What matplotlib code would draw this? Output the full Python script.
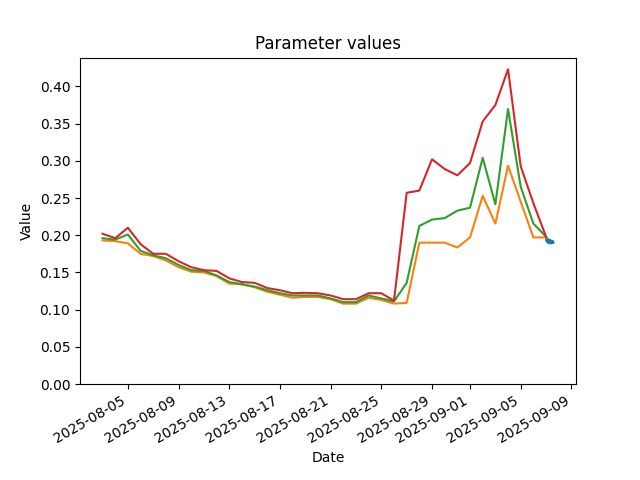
import numpy as np
import pandas as pd
import matplotlib
matplotlib.use("Agg")
import matplotlib.pyplot as plt

# daily values, 2025-08-03 .. 2025-09-07
dates = pd.date_range("2025-08-03", "2025-09-07", freq="D")

low = [0.193, 0.192, 0.189, 0.175, 0.172, 0.166, 0.157, 0.151, 0.150, 0.145,
       0.135, 0.134, 0.130, 0.124, 0.120, 0.116, 0.117, 0.117, 0.114, 0.108,
       0.108, 0.116, 0.113, 0.108, 0.109, 0.190, 0.190, 0.190, 0.1835, 0.197,
       0.253, 0.2156, 0.2934, 0.245, 0.197, 0.197]
mid = [0.196, 0.194, 0.201, 0.179, 0.173, 0.169, 0.160, 0.153, 0.152, 0.146,
       0.137, 0.134, 0.131, 0.126, 0.122, 0.119, 0.119, 0.119, 0.115, 0.110,
       0.110, 0.119, 0.115, 0.111, 0.136, 0.2125, 0.221, 0.223, 0.233, 0.237,
       0.304, 0.2416, 0.3696, 0.265, 0.2156, 0.198]
high = [0.202, 0.196, 0.210, 0.188, 0.175, 0.175, 0.165, 0.157, 0.153, 0.152,
        0.142, 0.137, 0.136, 0.129, 0.126, 0.122, 0.1225, 0.122, 0.119, 0.114,
        0.114, 0.122, 0.122, 0.112, 0.257, 0.260, 0.302, 0.289, 0.2805, 0.297,
        0.353, 0.375, 0.423, 0.2926, 0.243, 0.198]

# hourly values on the last day
hours = pd.date_range("2025-09-07 00:00", "2025-09-07 14:00", freq="h")
current = [0.197, 0.192, 0.196, 0.190, 0.194, 0.191, 0.189, 0.194, 0.190,
           0.193, 0.189, 0.192, 0.190, 0.192, 0.190]

fig, ax = plt.subplots(figsize=(6.4, 4.8), dpi=100)
ax.plot(hours, current, color="C0")
ax.plot(dates, low, color="C1")
ax.plot(dates, mid, color="C2")
ax.plot(dates, high, color="C3")
ax.set_ylim(bottom=0)
ax.set_title("Parameter values")
ax.set_xlabel("Date")
ax.set_ylabel("Value")
fig.autofmt_xdate()
fig.savefig("out.png")
